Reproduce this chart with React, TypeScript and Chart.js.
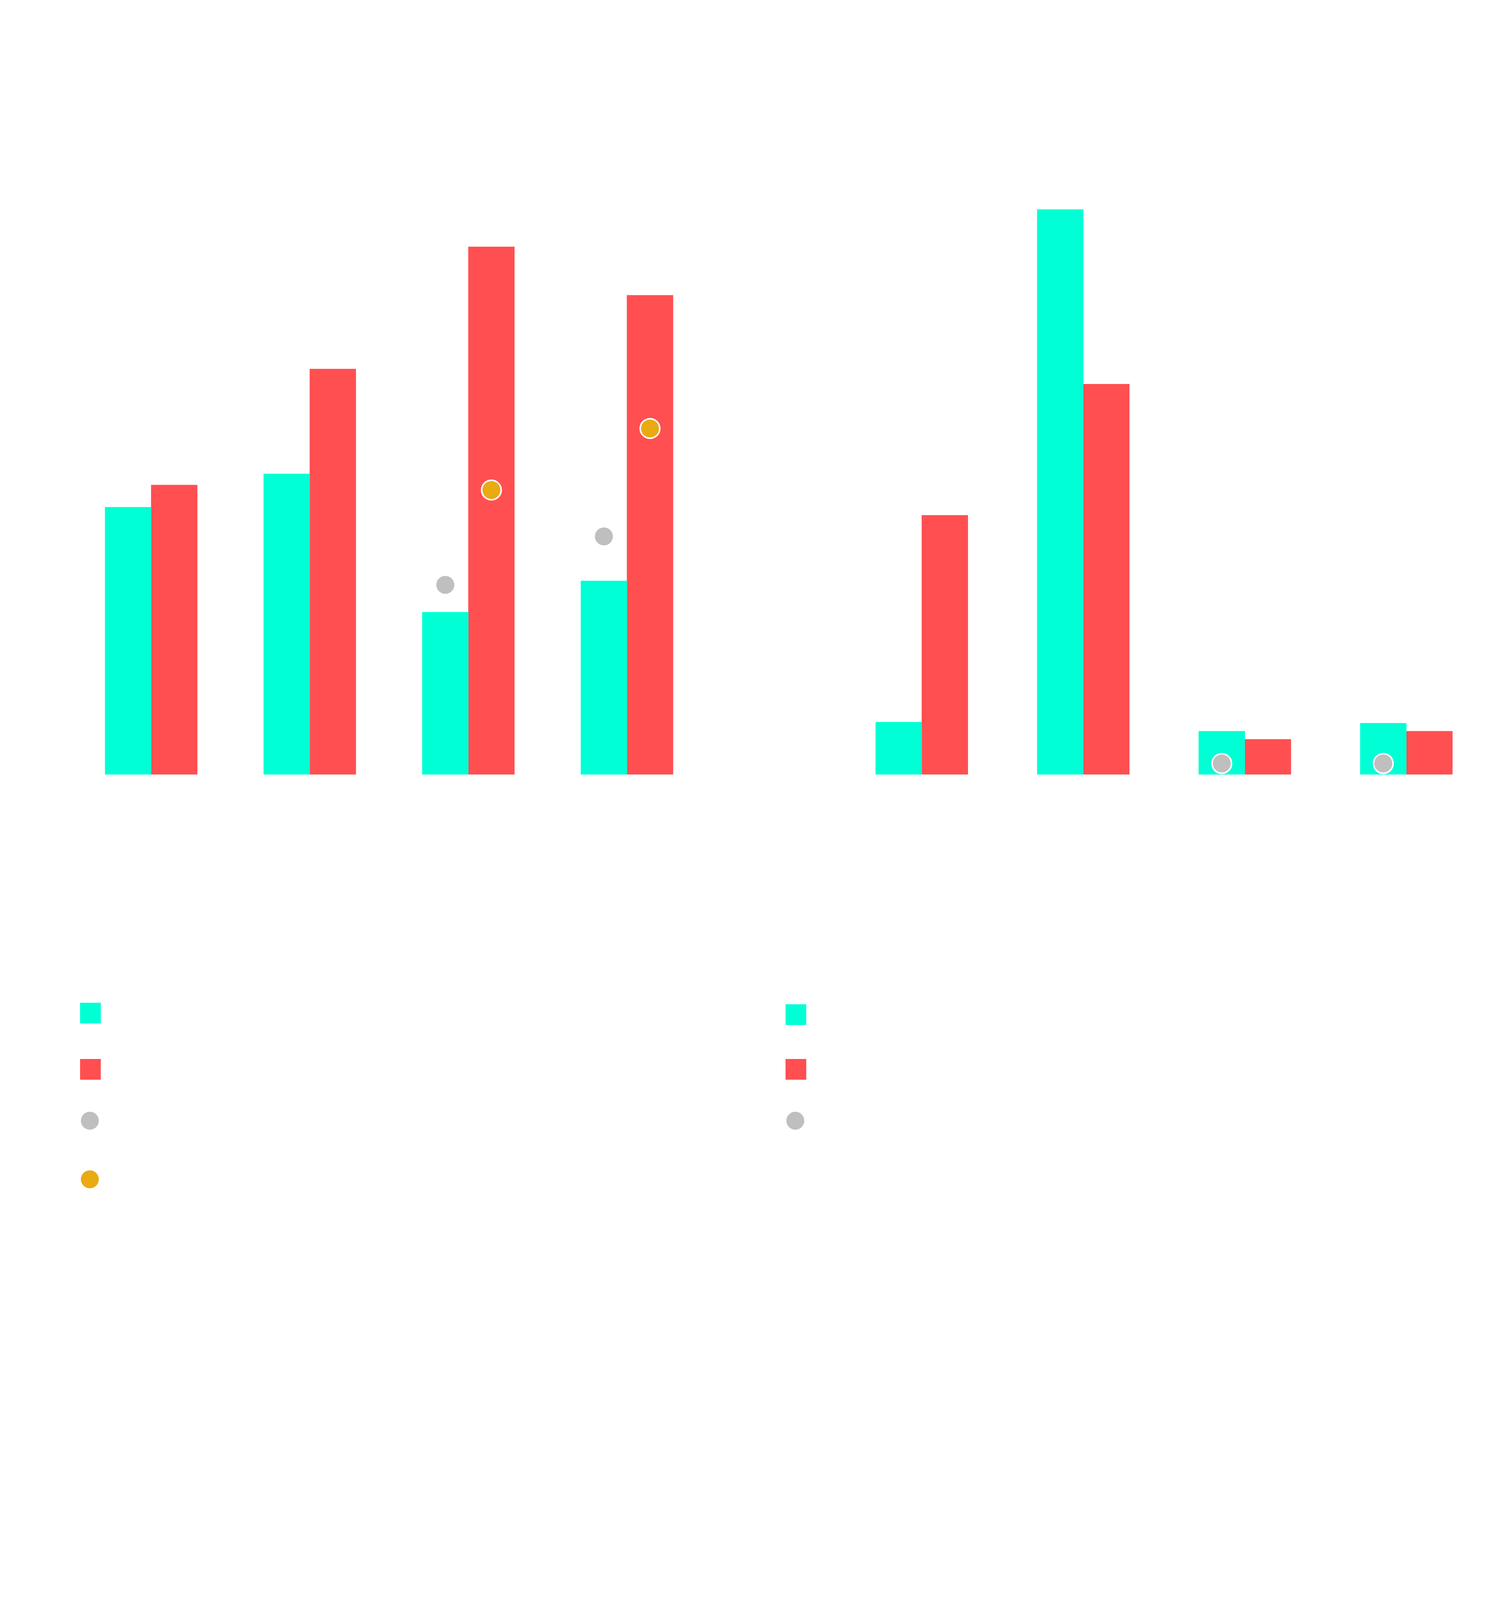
import React, { useEffect, useRef } from 'react';
import { Chart, registerables } from 'chart.js';

Chart.register(...registerables);

// ---------- data ----------
const leftCategories = ['Region A', 'Region B', 'Region C', 'Region D'];
const rightCategories = ['Region E', 'Region F', 'Region G', 'Region H'];

const leftSeries2023 = [26.5, 29.8, 16.1, 19.2];
const leftSeries2024 = [28.7, 40.2, 52.3, 47.5];
const leftTarget = [null, null, 18.8, 23.6];
const leftForecast = [null, null, 28.2, 34.3];

const rightSeries2023 = [5.2, 56.0, 4.3, 5.1];
const rightSeries2024 = [25.7, 38.7, 3.5, 4.3];
const rightTarget = [null, null, 1.1, 1.1];

const leftLegendNames = ['2023', '2024', 'Target', 'Forecast'];
const rightLegendNames = ['2023', '2024', 'Target'];

const yMin = 0;
const yMax = 60;
const yStep = 10;

const TEAL = '#00FFD5';
const RED = '#FF4F51';
const GRAY = '#BFBFBF';
const ORANGE = '#E9AA12';
const TEXT = '#FFFFFF';
const FONT = 'Roboto, "Noto Sans", sans-serif';

// place each point series on the centre of the bar it belongs to
const alignPointsPlugin = {
  id: 'alignPoints',
  afterDatasetsUpdate(chart: any) {
    chart.data.datasets.forEach((ds: any, i: number) => {
      if (ds.alignTo === undefined) return;
      const meta = chart.getDatasetMeta(i);
      const barMeta = chart.getDatasetMeta(ds.alignTo);
      meta.data.forEach((pt: any, j: number) => {
        const bar = barMeta.data[j];
        if (bar) pt.x = bar.x;
      });
    });
  },
};

type PointSet = { name: string; values: (number | null)[]; color: string; alignTo: number };

function makeConfig(p: {
  labels: string[];
  names: string[];
  a: number[];
  b: number[];
  points: PointSet[];
  yWidth: number;
  padRight: number;
}): any {
  return {
    type: 'bar',
    data: {
      labels: p.labels,
      datasets: [
        { type: 'bar', label: p.names[0], data: p.a, backgroundColor: TEAL, barThickness: 118, order: 1 },
        { type: 'bar', label: p.names[1], data: p.b, backgroundColor: RED, barThickness: 118, order: 1 },
        ...p.points.map((pt) => ({
          type: 'line',
          label: pt.name,
          data: pt.values,
          showLine: false,
          pointRadius: 25,
          pointHoverRadius: 25,
          pointBorderWidth: 4,
          pointBorderColor: '#FFFFFF',
          pointBackgroundColor: pt.color,
          backgroundColor: pt.color,
          borderColor: pt.color,
          order: 0,
          alignTo: pt.alignTo,
        })),
      ],
    },
    options: {
      responsive: true,
      maintainAspectRatio: false,
      animation: false,
      events: [],
      layout: { padding: { top: 60, right: p.padRight, left: 0, bottom: 0 } },
      plugins: {
        legend: { display: false },
        tooltip: { enabled: false },
        title: { display: false },
      },
      scales: {
        x: {
          grid: { display: false },
          border: { color: TEXT },
          ticks: { color: TEXT, padding: 150, font: { family: FONT, size: 40 } },
          afterFit: (s: any) => {
            s.height = 500;
          },
        },
        y: {
          min: yMin,
          max: yMax,
          ticks: { stepSize: yStep, color: TEXT, padding: 72, font: { family: FONT, size: 40 } },
          grid: { color: TEXT },
          border: { color: TEXT },
          afterFit: (s: any) => {
            s.width = p.yWidth;
          },
        },
      },
    },
    plugins: [alignPointsPlugin],
  };
}

function ChartBox({ config, box }: { config: any; box: React.CSSProperties }) {
  const ref = useRef<HTMLCanvasElement>(null);
  useEffect(() => {
    const chart = new Chart(ref.current as HTMLCanvasElement, config);
    return () => chart.destroy();
  }, []);
  return (
    <div style={{ position: 'absolute', ...box }}>
      <canvas ref={ref} />
    </div>
  );
}

type LegendRow = { name: string; color: string; shape: 'square' | 'circle'; x: number; y: number };

function LegendItem({ row }: { row: LegendRow }) {
  const size = row.shape === 'square' ? 53 : 46;
  return (
    <div
      style={{
        position: 'absolute',
        left: row.x,
        top: row.y,
        height: size,
        display: 'flex',
        alignItems: 'center',
        whiteSpace: 'nowrap',
      }}
    >
      <span
        style={{
          display: 'inline-block',
          width: size,
          height: size,
          background: row.color,
          borderRadius: row.shape === 'circle' ? '50%' : 0,
        }}
      />
      <span style={{ marginLeft: 28, color: TEXT, fontFamily: FONT, fontSize: 44 }}>{row.name}</span>
    </div>
  );
}

export default function App() {
  const leftConfig = makeConfig({
    labels: leftCategories,
    names: leftLegendNames,
    a: leftSeries2023,
    b: leftSeries2024,
    points: [
      { name: leftLegendNames[2], values: leftTarget, color: GRAY, alignTo: 0 },
      { name: leftLegendNames[3], values: leftForecast, color: ORANGE, alignTo: 1 },
    ],
    yWidth: 184,
    padRight: 112,
  });
  const rightConfig = makeConfig({
    labels: rightCategories,
    names: rightLegendNames,
    a: rightSeries2023,
    b: rightSeries2024,
    points: [{ name: rightLegendNames[2], values: rightTarget, color: GRAY, alignTo: 0 }],
    yWidth: 229,
    padRight: 0,
  });

  const legendRows: LegendRow[] = [
    { name: leftLegendNames[0], color: TEAL, shape: 'square', x: 205, y: 2567 },
    { name: leftLegendNames[1], color: RED, shape: 'square', x: 205, y: 2711 },
    { name: leftLegendNames[2], color: GRAY, shape: 'circle', x: 207, y: 2846 },
    { name: leftLegendNames[3], color: ORANGE, shape: 'circle', x: 207, y: 2996 },
    { name: rightLegendNames[0], color: TEAL, shape: 'square', x: 2011, y: 2571 },
    { name: rightLegendNames[1], color: RED, shape: 'square', x: 2011, y: 2711 },
    { name: rightLegendNames[2], color: GRAY, shape: 'circle', x: 2013, y: 2846 },
  ];

  const textStyle: React.CSSProperties = {
    position: 'absolute',
    color: TEXT,
    fontFamily: FONT,
    whiteSpace: 'nowrap',
  };

  return (
    <div
      style={{
        position: 'absolute',
        left: 0,
        top: 0,
        width: 3840,
        height: 4126,
        overflow: 'hidden',
        background: '#FFFFFF',
      }}
    >
      <div style={{ ...textStyle, left: 0, width: 1650, top: 10, textAlign: 'center', fontSize: 56, fontWeight: 700 }}>
        Sales by region, 2023 vs 2024
      </div>
      <div style={{ ...textStyle, left: 1924, width: 1909, top: 10, textAlign: 'center', fontSize: 56, fontWeight: 700 }}>
        Sales by region, 2023 vs 2024
      </div>
      <div style={{ ...textStyle, left: 210, top: 160, fontSize: 40 }}>Unit: million</div>

      <ChartBox config={leftConfig} box={{ left: 0, top: 337, width: 1920, height: 2146 }} />
      <ChartBox config={rightConfig} box={{ left: 1924, top: 337, width: 1912, height: 2146 }} />

      {legendRows.map((r, i) => (
        <LegendItem key={i} row={r} />
      ))}

      <div style={{ ...textStyle, left: 200, top: 3190, fontSize: 44 }}>Notes</div>
      <div style={{ ...textStyle, left: 200, top: 3470, fontSize: 44 }}>
        Target and forecast values are shown only where they are available for the region.
      </div>
      <div style={{ ...textStyle, left: 180, top: 3786, fontSize: 44 }}>
        Source: internal sales reports; figures are rounded and may not add up to the totals.
      </div>
      <div style={{ ...textStyle, left: 200, top: 4000, fontSize: 44 }}>Data as of year end.</div>
    </div>
  );
}
